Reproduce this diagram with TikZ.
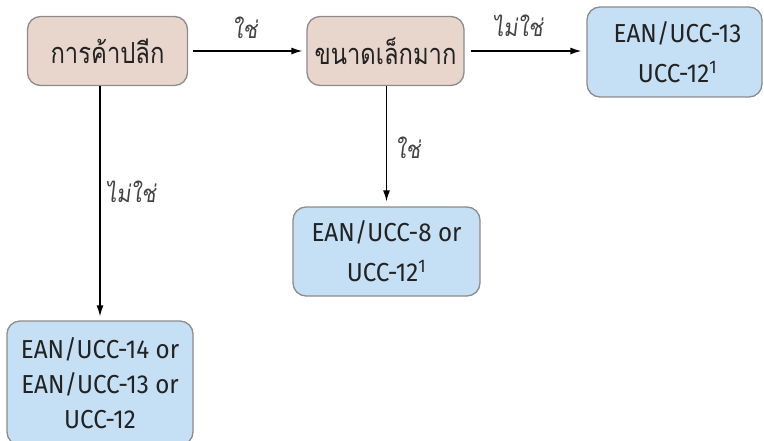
\documentclass[tikz,border=0pt]{standalone}
\usepackage{fontspec}
\setmainfont{Fira Sans}[FakeStretch=0.93]
\newfontfamily\thaifont[Script=Thai,FakeStretch=0.82]{Loma}
\newfontfamily\thailabel[Script=Thai,FakeStretch=0.9,FakeSlant=0.12]{Loma}
\usetikzlibrary{arrows.meta}
\definecolor{pinkfill}{HTML}{E8D5CB}
\definecolor{bluefill}{HTML}{C5DFF4}
\definecolor{boxline}{HTML}{8C8C8C}
\definecolor{txt}{HTML}{222222}
\tikzset{
  box/.style={draw=boxline, line width=1.3pt, rounded corners=13pt, align=center, text=txt, inner sep=0pt},
  decision/.style={box, fill=pinkfill, font=\thaifont\fontsize{29}{30}\selectfont},
  result/.style={box, fill=bluefill, font=\fontsize{26}{40}\selectfont},
  conn/.style={line width=1.4pt, -{Latex[length=11pt,width=7pt]}},
  lbl/.style={font=\thailabel\fontsize{24}{25}\selectfont, text=txt!85, inner sep=0pt}
}
\begin{document}
\begin{tikzpicture}[x=1pt,y=-1pt]
\useasboundingbox (0,0) rectangle (764,441);
\node[decision, minimum width=160pt, minimum height=69pt] (b1) at (107.5,51) {การค้าปลีก};
\node[decision, minimum width=157pt, minimum height=69pt] (b2) at (385.5,51) {ขนาดเล็กมาก};
\node[result, minimum width=175pt, minimum height=90pt] (b3) at (674.5,52) {\hspace*{6pt}EAN/UCC-13\\\hspace*{6pt}UCC-12\textsuperscript{1}};
\node[result, minimum width=187pt, minimum height=89pt] (b4) at (386.5,251.5) {EAN/UCC-8 or\\UCC-12\textsuperscript{1}};
\node[result, minimum width=186pt, minimum height=124pt, font=\fontsize{26}{35}\selectfont] (b5) at (100,383) {EAN/UCC-14 or\\EAN/UCC-13 or\\UCC-12};
\draw[conn, shorten <=5pt, shorten >=4pt] (b1.east) -- (b2.west);
\draw[conn, shorten <=6pt, shorten >=5pt] (b2.east) -- (b3.west |- b2.east);
\draw[conn, shorten >=5pt] (b4.north |- b2.south) -- (b4.north);
\draw[conn, shorten >=4pt] (b5.north |- b1.south) -- (b5.north);
\node[lbl] (l1) at (245,28) {ใช่};
\node[lbl] (l2) at (518,26) {ไม่ใช่};
\node[lbl] (l3) at (408,148) {ใช่};
\node[lbl] (l4) at (131,192) {ไม่ใช่};
\end{tikzpicture}
\end{document}
